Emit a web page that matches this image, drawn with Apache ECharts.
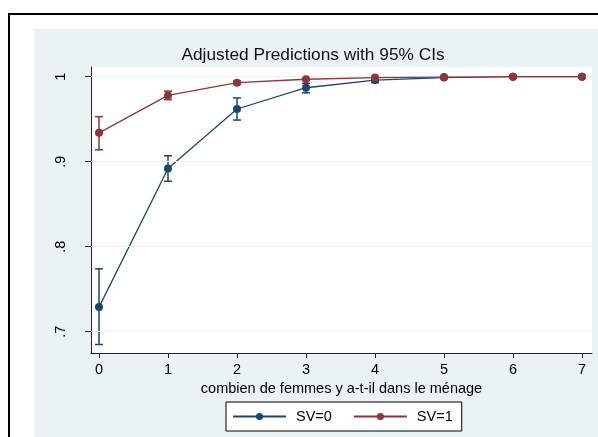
<!DOCTYPE html>
<html><head><meta charset="utf-8">
<script src="https://cdn.jsdelivr.net/npm/echarts@6/dist/echarts.min.js"></script>
<style>html,body{margin:0;padding:0;background:#fff}#c{width:598px;height:437px}</style>
</head><body><div id="c"></div>
<script>
// ---- data ----
const xValues = [0, 1, 2, 3, 4, 5, 6, 7];
const sv0 = [0.729, 0.892, 0.962, 0.987, 0.996, 0.999, 1.000, 1.000];
const sv0Lo = [0.685, 0.877, 0.949, 0.981, 0.993, 0.998, 0.9995, 1.000];
const sv0Hi = [0.774, 0.907, 0.975, 0.992, 0.998, 1.000, 1.000, 1.000];
const sv1 = [0.934, 0.978, 0.993, 0.997, 0.999, 0.9995, 1.000, 1.000];
const sv1Lo = [0.914, 0.973, 0.991, 0.996, 0.998, 0.999, 0.9998, 1.000];
const sv1Hi = [0.953, 0.983, 0.995, 0.998, 1.000, 1.000, 1.000, 1.000];
const seriesNames = ['SV=0', 'SV=1'];
const yTicks = [0.7, 0.8, 0.9, 1.0];
const yTickLabels = ['.7', '.8', '.9', '1'];
const xTicks = [0, 1, 2, 3, 4, 5, 6, 7];
const titleText = 'Adjusted Predictions with 95% CIs';
const xTitle = 'combien de femmes y a-t-il dans le ménage';

const NAVY = '#1A476F', MAROON = '#90353B', BG = '#EAF2F3';
const FONT = '"Liberation Sans", Arial, sans-serif';

function errorBars(lo, hi, color) {
  return {
    type: 'custom',
    z: 3,
    silent: true,
    data: xValues.map((x, i) => [x, lo[i], hi[i]]),
    encode: { x: 0, y: [1, 2] },
    renderItem: function (params, api) {
      const x = api.value(0);
      const p1 = api.coord([x, api.value(1)]);
      const p2 = api.coord([x, api.value(2)]);
      const w = 4;
      const st = { stroke: color, lineWidth: 1.5 };
      return {
        type: 'group',
        children: [
          { type: 'line', shape: { x1: p1[0], y1: p1[1], x2: p2[0], y2: p2[1] }, style: st },
          { type: 'line', shape: { x1: p1[0] - w, y1: p1[1], x2: p1[0] + w, y2: p1[1] }, style: st },
          { type: 'line', shape: { x1: p2[0] - w, y1: p2[1], x2: p2[0] + w, y2: p2[1] }, style: st }
        ]
      };
    }
  };
}

function lineSeries(name, vals, color, z) {
  return {
    name: name,
    type: 'line',
    z: z,
    data: xValues.map((x, i) => [x, vals[i]]),
    symbol: 'circle',
    symbolSize: 8,
    showSymbol: true,
    itemStyle: { color: color },
    lineStyle: { color: color, width: 1.3 },
    emphasis: { disabled: true },
    animation: false
  };
}

const chart = echarts.init(document.getElementById('c'));
chart.setOption({
  animation: false,
  textStyle: { fontFamily: FONT },
  graphic: [
    { type: 'rect', z: -100, shape: { x: 9, y: 14, width: 640, height: 480 },
      style: { fill: '#fff', stroke: '#000', lineWidth: 2 } },
    { type: 'rect', z: -99, shape: { x: 34, y: 29, width: 620, height: 460 },
      style: { fill: BG } }
  ],
  title: {
    text: titleText,
    left: 313, textAlign: 'center',
    top: 47,
    padding: 0,
    textStyle: { fontFamily: FONT, fontSize: 17.3, fontWeight: 'normal', color: '#111' }
  },
  grid: {
    left: 91, top: 67, right: 6, bottom: 84,
    show: true, backgroundColor: '#fff', borderWidth: 0
  },
  xAxis: {
    type: 'value',
    min: -0.116, max: 7.145,
    name: xTitle,
    nameLocation: 'middle',
    nameGap: 24,
    nameTextStyle: { fontFamily: FONT, fontSize: 14.5, color: '#000' },
    axisLine: { show: true, onZero: false, lineStyle: { color: '#222', width: 1 } },
    axisTick: { show: true, length: 5, customValues: xTicks, lineStyle: { color: '#222' } },
    axisLabel: { customValues: xTicks, fontFamily: FONT, fontSize: 14.5, color: '#000', margin: 9 },
    splitLine: { show: false }
  },
  yAxis: {
    type: 'value',
    min: 0.675, max: 1.0114,
    axisLine: { show: true, onZero: false, lineStyle: { color: '#222', width: 1 } },
    axisTick: { show: true, length: 6, customValues: yTicks, lineStyle: { color: '#222' } },
    axisLabel: {
      customValues: yTicks, rotate: 90, fontFamily: FONT, fontSize: 14.5, color: '#000', margin: 23,
      formatter: function (v) {
        const i = yTicks.findIndex(t => Math.abs(t - v) < 1e-9);
        return i >= 0 ? yTickLabels[i] : '';
      }
    },
    splitLine: { show: false }
  },
  legend: {
    data: seriesNames,
    left: 226, top: 402,
    orient: 'horizontal',
    itemWidth: 53, itemHeight: 9, itemGap: 21,
    padding: [7, 9, 7, 6],
    borderColor: '#000', borderWidth: 1, backgroundColor: '#fff',
    textStyle: { fontFamily: FONT, fontSize: 14.5, color: '#000', padding: [0, 0, 0, 5] },
    selectedMode: false
  },
  series: [
    {
      type: 'line', name: 'grid', data: [], z: 1, silent: true,
      markLine: {
        silent: true, symbol: ['none', 'none'], label: { show: false },
        lineStyle: { color: BG, width: 1.2, type: 'solid' },
        data: yTicks.map(v => ({ yAxis: v }))
      }
    },
    errorBars(sv0Lo, sv0Hi, NAVY),
    lineSeries(seriesNames[0], sv0, NAVY, 4),
    errorBars(sv1Lo, sv1Hi, MAROON),
    lineSeries(seriesNames[1], sv1, MAROON, 5)
  ]
});
</script>
</body></html>
